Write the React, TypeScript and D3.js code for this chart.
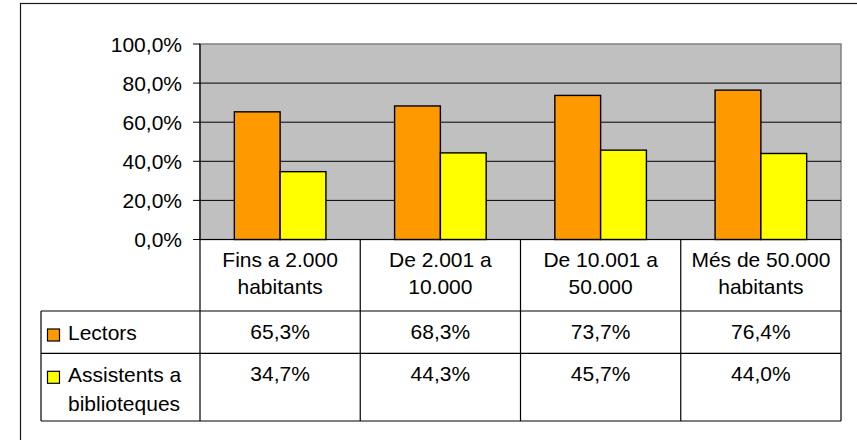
import React from "react";
import * as d3 from "d3";

const categories: string[][] = [
  ["Fins a 2.000", "habitants"],
  ["De 2.001 a", "10.000"],
  ["De 10.001 a", "50.000"],
  ["Més de 50.000", "habitants"],
];
const seriesNames: string[][] = [["Lectors"], ["Assistents a", "biblioteques"]];
const lectors = [65.3, 68.3, 73.7, 76.4];
const assistents = [34.7, 44.3, 45.7, 44.0];
const yTicks = [0, 20, 40, 60, 80, 100];
const seriesColors = ["#FF9900", "#FFFF00"];

const W = 857;
const H = 440;
const FONT = "'Liberation Sans', Arial, sans-serif";
const FS = 21;

const locale = d3.formatLocale({ decimal: ",", thousands: ".", grouping: [3], currency: ["", "€"] });
const fmt = locale.format(".1f");

export default function App() {
  const plotL = 200, plotR = 841, plotT = 44, plotB = 239.5;
  const tableL = 41;
  const headerB = 311, row1B = 353.3, tableB = 421;
  const series = [lectors, assistents];

  const y = d3.scaleLinear().domain([0, 100]).range([plotB, plotT]);
  const x0 = d3.scaleBand<number>().domain(d3.range(categories.length)).range([plotL, plotR]).paddingInner(0).paddingOuter(0);
  const catW = x0.bandwidth();
  const groupW = catW * 2 / 3.5;
  const x1 = d3.scaleBand<number>().domain([0, 1]).range([0, groupW]);

  const rowTops = [headerB, row1B];
  const rowBottoms = [row1B, tableB];

  return (
    <svg width={W} height={H} style={{ position: "absolute", left: 0, top: 0, background: "#fff" }} fontFamily={FONT}>
      <rect x={20.5} y={3.5} width={1000} height={1000} fill="#fff" stroke="#1a1a1a" strokeWidth={1.2} />
      {/* plot area */}
      <rect x={plotL} y={plotT} width={plotR - plotL} height={plotB - plotT} fill="#C0C0C0" stroke="#808080" strokeWidth={1.5} />
      {/* gridlines + ticks */}
      {yTicks.map((t) => (
        <g key={t}>
          {t > 0 && t < 100 && (
            <line x1={plotL} x2={plotR} y1={y(t)} y2={y(t)} stroke="#000" strokeWidth={1} />
          )}
          <line x1={193} x2={plotL} y1={y(t)} y2={y(t)} stroke="#000" strokeWidth={1} />
          <text x={182} y={y(t)} dy="0.36em" textAnchor="end" fontSize={FS} fill="#000">
            {fmt(t) + "%"}
          </text>
        </g>
      ))}
      {/* bars */}
      {categories.map((_, i) => {
        const gx = (x0(i) as number) + (catW - groupW) / 2;
        return series.map((s, j) => (
          <rect
            key={`${i}-${j}`}
            x={gx + (x1(j) as number)}
            y={y(s[i])}
            width={x1.bandwidth()}
            height={plotB - y(s[i])}
            fill={seriesColors[j]}
            stroke="#000"
            strokeWidth={1.4}
          />
        ));
      })}
      {/* axes */}
      <line x1={plotL} x2={plotL} y1={plotT} y2={tableB} stroke="#000" strokeWidth={1.2} />
      <line x1={193} x2={plotR} y1={plotB} y2={plotB} stroke="#000" strokeWidth={1.2} />
      {/* table lines */}
      <line x1={tableL} x2={plotR} y1={headerB} y2={headerB} stroke="#000" strokeWidth={1.2} />
      <line x1={tableL} x2={plotR} y1={row1B} y2={row1B} stroke="#000" strokeWidth={1.2} />
      <line x1={tableL} x2={plotR} y1={tableB} y2={tableB} stroke="#000" strokeWidth={1.2} />
      <line x1={tableL} x2={tableL} y1={headerB} y2={tableB} stroke="#000" strokeWidth={1.2} />
      {categories.map((_, i) => (
        <line key={i} x1={(x0(i) as number) + catW} x2={(x0(i) as number) + catW} y1={plotB} y2={tableB} stroke="#000" strokeWidth={1.2} />
      ))}
      {/* header labels */}
      {categories.map((lines, i) => (
        <text key={i} x={(x0(i) as number) + catW / 2} y={266.7} textAnchor="middle" fontSize={FS} fill="#000">
          {lines.map((l, k) => (
            <tspan key={k} x={(x0(i) as number) + catW / 2} dy={k === 0 ? 0 : 27.6}>{l}</tspan>
          ))}
        </text>
      ))}
      {/* rows */}
      {series.map((s, j) => (
        <g key={j}>
          <rect x={47.5} y={rowTops[j] + 18} width={12} height={12} fill={seriesColors[j]} stroke="#000" strokeWidth={1.2} />
          <text x={68} y={rowTops[j] + 28.5} fontSize={FS} fill="#000">
            {seriesNames[j].map((l, k) => (
              <tspan key={k} x={68} dy={k === 0 ? 0 : 29.3}>{l}</tspan>
            ))}
          </text>
          {s.map((v, i) => (
            <text key={i} x={(x0(i) as number) + catW / 2} y={rowTops[j] + 27.5} textAnchor="middle" fontSize={FS} fill="#000">
              {fmt(v) + "%"}
            </text>
          ))}
        </g>
      ))}
    </svg>
  );
}
